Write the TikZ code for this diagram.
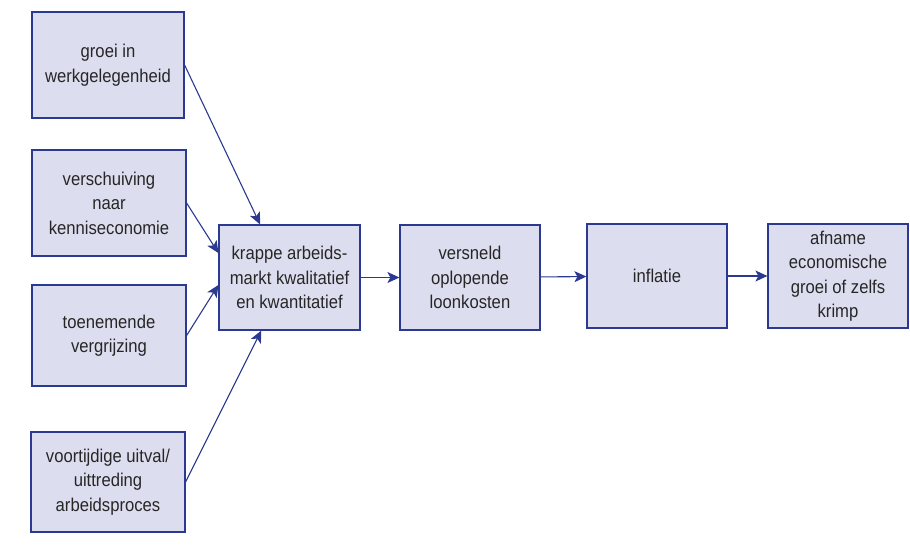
\documentclass[tikz,border=0pt]{standalone}
\usepackage{fontspec}
\setmainfont{Liberation Sans}[FakeStretch=0.9]
\usetikzlibrary{arrows.meta}

\definecolor{boxfill}{RGB}{221,221,240}
\definecolor{boxline}{RGB}{43,57,144}
\definecolor{boxtext}{RGB}{38,38,38}

\begin{document}
\begin{tikzpicture}[x=1pt, y=-1pt,
  every node/.style={font=\fontsize{18.5}{24.5}\selectfont, text=boxtext},
  factor/.style={draw=boxline, fill=boxfill, line width=1.2pt, align=center,
    minimum width=154pt, minimum height=104pt, inner sep=0pt},
  chain/.style={factor, minimum width=140pt, minimum height=105pt},
  link/.style={draw=boxline, line width=1.1pt,
    -{Stealth[length=12pt,width=11pt,inset=3pt]}}]

\useasboundingbox (0,0) rectangle (910,554);

% ---------- CAUSES ----------
\node[factor, minimum width=152pt, minimum height=106pt] (groei) at (108,65)
  {groei in\\werkgelegenheid};
\node[factor, minimum height=106pt] (kennis) at (109,203)
  {verschuiving\\naar\\kenniseconomie};
\node[factor, minimum height=101pt] (vergrijzing) at (109,335.5)
  {toenemende\\vergrijzing};
\node[factor, minimum height=100pt] (uitval) at (108,482)
  {voortijdige uitval/\\uittreding\\arbeidsproces};

% ---------- CHAIN ----------
\node[chain, minimum width=141pt] (krap) at (289.5,277.5)
  {krappe arbeids-\\markt kwalitatief\\en kwantitatief};
\node[chain] (loon) at (470,277.5)
  {versneld\\oplopende\\loonkosten};
\node[chain, minimum height=104pt] (inflatie) at (657,276) {inflatie};
\node[chain, minimum height=104pt] (krimp) at (838,276)
  {afname\\economische\\groei of zelfs\\krimp};

% Arrows
\draw[link] (groei.east) -- (krap.119);
\draw[link] (kennis.east) -- (krap.161);
\draw[link] (vergrijzing.east) -- (krap.186);
\draw[link] (uitval.east) -- (krap.242);
\draw[link] (krap) -- (loon);
\draw[link] (loon) -- (inflatie);
\draw[link] (inflatie) -- (krimp);

\end{tikzpicture}
\end{document}
